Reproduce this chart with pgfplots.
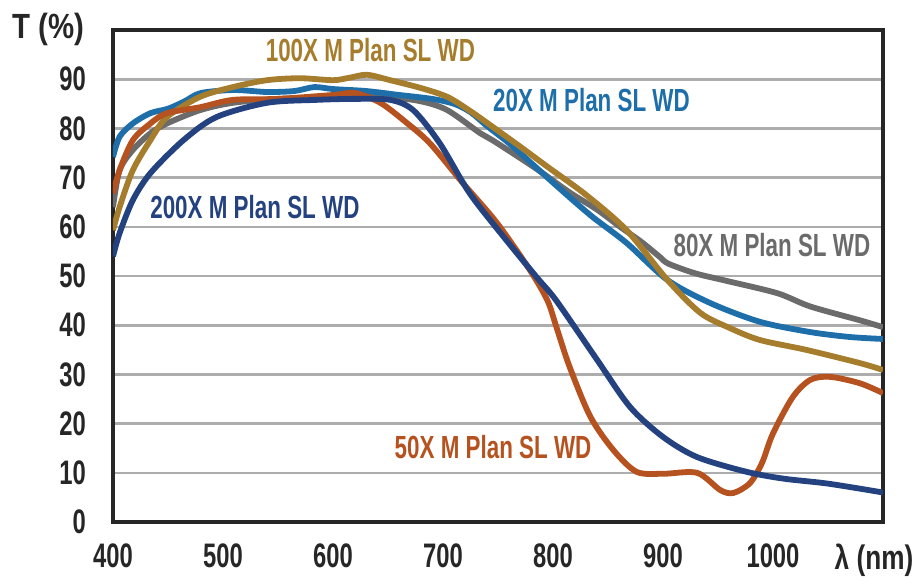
\documentclass[border=0pt]{standalone}
\usepackage{fontspec}
\setmainfont{Liberation Sans}[FakeStretch=0.7]
\usepackage{pgfplots}
\pgfplotsset{compat=1.18}
\definecolor{cA}{HTML}{1E6EAA}% 20X
\definecolor{cB}{HTML}{B5521F}% 50X
\definecolor{cC}{HTML}{6B6B6B}% 80X
\definecolor{cD}{HTML}{A57D2C}% 100X
\definecolor{cE}{HTML}{24427F}% 200X
\begin{document}
\begin{tikzpicture}
\useasboundingbox (-56.5pt,-32pt) rectangle (404.5pt,261pt);
\begin{axis}[
  at={(0,0)}, anchor=south west,
  scale only axis, width=385pt, height=246pt,
  xmin=400, xmax=1100, ymin=0, ymax=100,
  xtick={400,500,...,1000},
  ytick={0,10,...,90},
  major tick length=0pt,
  ymajorgrids,
  grid style={color=black!32, line width=1.3pt},
  axis line style={line width=1.6pt, black!85},
  ticklabel style={font=\fontsize{17}{20}\selectfont\bfseries, text=black!85},
  xticklabel style={yshift=-7.5pt},
  yticklabel style={xshift=-10pt},
  /pgf/number format/assume math mode=true,
  /pgf/number format/1000 sep={},
  every axis plot/.append style={line width=2.9pt, smooth, no markers},
  clip=true,
]
% 80X M Plan SL WD
\addplot[cC] coordinates {
(400,64) (406,71.5) (418,75.6) (434,79) (449,81) (479,83.7) (509,85.2) (550,86)
(600,86.3) (650,86.3) (680,85.5) (704,83.7) (734,79) (745,77.6) (770,74) (790,71)
(815,67) (840,63.5) (861,60) (880,57) (897,53.9) (905,52.5) (930,50.5) (958,49)
(1004,46.5) (1034,43.8) (1079,41) (1100,39.6)};
% 20X M Plan SL WD
\addplot[cA] coordinates {
(400,74.2) (406,78.3) (418,81) (434,83.1) (450,84) (465,85.5) (480,87.2) (510,87.8)
(540,87.4) (565,87.6) (583,88.4) (600,88) (630,87.6) (660,86.8) (690,86) (710,85)
(725,83.3) (740,80.5) (760,77) (780,73) (810,67) (836,62) (867,56.7) (904,49.2)
(943,44.5) (988,40.7) (1034,38.6) (1070,37.6) (1100,37.2)};
% 100X M Plan SL WD
\addplot[cD] coordinates {
(400,59.3) (406,64) (418,71.5) (434,77.6) (449,82.3) (479,86.4) (509,88.4) (540,89.8)
(570,90.2) (600,89.8) (615,90.3) (631,90.9) (652,89.8) (680,88.2) (704,86.4) (725,83.5)
(749,79.7) (772,76) (795,72.2) (830,66.5) (867,59.3) (904,49.2) (934,42.5) (960,39.5)
(988,37) (1030,35) (1079,32.3) (1100,30.9)};
% 50X M Plan SL WD
\addplot[cB] coordinates {
(400,66.8) (406,71.5) (418,77.6) (434,81) (449,83.1) (479,84.3) (509,85.8) (550,86)
(600,86.8) (620,87.2) (643,85.2) (665,81.5) (688,77) (718,68.9) (749,60.8) (779,51.2)
(795,45) (803,39.7) (815,31.6) (834,21.4) (855,14.6) (876,10.2) (900,9.8) (931,10)
(952,6.5) (964,5.9) (979,7.9) (990,12) (1000,18) (1018,25.4) (1034,28.9) (1052,29.5)
(1079,28.2) (1100,26.2)};
% 200X M Plan SL WD
\addplot[cE] coordinates {
(400,54) (406,58.7) (418,65.4) (434,70.9) (464,77.6) (494,82.3) (540,85.2) (585,85.8)
(620,86) (652,85.8) (673,83.7) (697,77) (724,66.9) (755,58) (785,49.8) (803,45)
(840,33) (870,23.4) (900,17.3) (931,13.2) (976,10.2) (1010,8.8) (1050,7.8) (1100,6)};

\begin{scope}[every node/.style={font=\fontsize{16}{19}\selectfont\bfseries}]
\node[text=cD] at (axis cs:634,95.9) {100X M Plan SL WD};
\node[text=cA] at (axis cs:835,85.8) {20X M Plan SL WD};
\node[text=cE] at (axis cs:529,64) {200X M Plan SL WD};
\node[text=cC] at (axis cs:999,56.3) {80X M Plan SL WD};
\node[text=cB] at (axis cs:745.5,15.2) {50X M Plan SL WD};
\end{scope}
\end{axis}
\node[anchor=east, inner sep=0pt, font=\fontsize{17.5}{20}\selectfont\bfseries, text=black!85]
  at (-14pt,246.5pt) {\scalebox{1.2}[1]{T (\%)}};
\node[font=\fontsize{17}{20}\selectfont\bfseries, text=black!85]
  at (380.5pt,-19pt) {\scalebox{1.1}[1]{λ (nm)}};
\end{tikzpicture}
\end{document}
